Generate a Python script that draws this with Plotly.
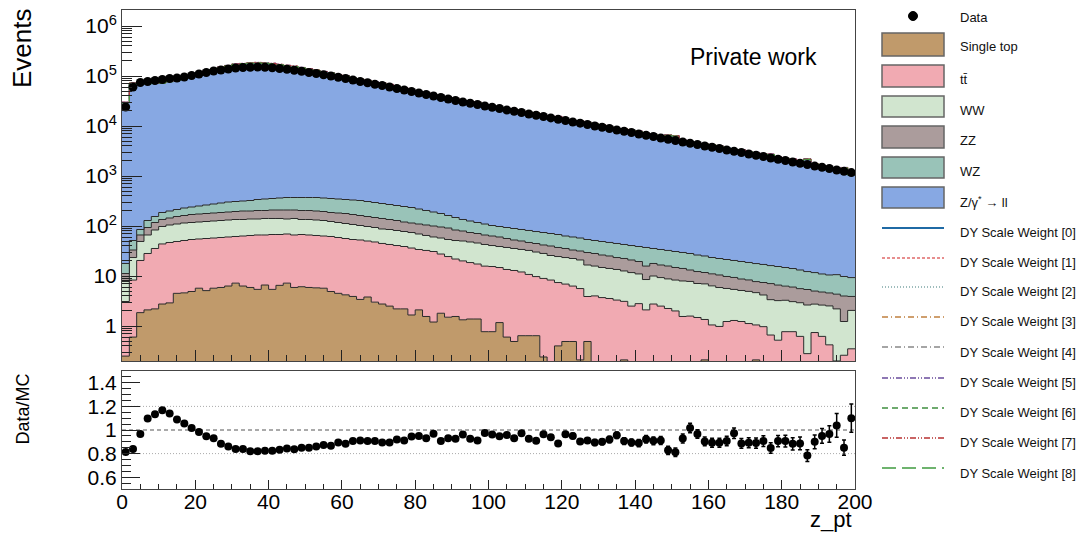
import numpy as np
import plotly.graph_objects as go

# ---------------- data ----------------
bin_edges = list(range(0, 202, 2))          # z_pt binning, 100 bins of 2 GeV
x_tick_labels = ["0", "20", "40", "60", "80", "100", "120", "140", "160", "180", "200"]

data_events = [
    24000, 60300, 74100, 77600, 81300, 85100, 89100, 91200, 95500, 102300,
    109600, 117500, 125900, 131800, 138000, 144500, 147900, 149600, 151400, 149600,
    146200, 141300, 136500, 130300, 124500, 117500, 112200, 105900, 100000, 94400,
    89100, 83200, 77600, 73300, 68400, 64600, 60300, 56200, 52500, 49000,
    45700, 42700, 39800, 37200, 34700, 32400, 30200, 28500, 26900, 25100,
    23700, 22400, 20900, 19700, 18600, 17400, 16400, 15500, 14500, 13600,
    12900, 12000, 11400, 10700, 10000, 9440, 8910, 8320, 7850, 7410,
    6920, 6530, 6170, 5750, 5430, 5130, 4790, 4520, 4270, 3980,
    3760, 3550, 3310, 3130, 2950, 2750, 2600, 2450, 2290, 2160,
    2040, 1910, 1800, 1700, 1580, 1500, 1410, 1320, 1240, 1170]

ratio_values = [
    0.814, 0.840, 0.967, 1.097, 1.133, 1.167, 1.139, 1.089, 1.056, 1.017,
    0.983, 0.947, 0.930, 0.883, 0.861, 0.839, 0.839, 0.820, 0.820, 0.825,
    0.825, 0.833, 0.844, 0.836, 0.850, 0.850, 0.861, 0.872, 0.867, 0.894,
    0.883, 0.906, 0.911, 0.906, 0.906, 0.894, 0.894, 0.919, 0.911, 0.944,
    0.950, 0.930, 0.969, 0.906, 0.930, 0.925, 0.961, 0.925, 0.911, 0.975,
    0.961, 0.947, 0.958, 0.930, 0.972, 0.925, 0.908, 0.964, 0.939, 0.886,
    0.964, 0.950, 0.903, 0.911, 0.894, 0.900, 0.919, 0.956, 0.906, 0.894,
    0.889, 0.922, 0.908, 0.911, 0.828, 0.811, 0.928, 1.017, 0.967, 0.903,
    0.892, 0.892, 0.906, 0.972, 0.886, 0.892, 0.889, 0.906, 0.847, 0.906,
    0.906, 0.883, 0.886, 0.783, 0.900, 0.950, 0.967, 1.039, 0.850, 1.100]

ratio_errors = [
    0.004, 0.004, 0.004, 0.004, 0.004, 0.004, 0.004, 0.004, 0.004, 0.004,
    0.004, 0.004, 0.004, 0.004, 0.004, 0.004, 0.004, 0.004, 0.004, 0.004,
    0.005, 0.005, 0.005, 0.005, 0.005, 0.005, 0.005, 0.005, 0.005, 0.005,
    0.006, 0.006, 0.006, 0.006, 0.006, 0.006, 0.006, 0.006, 0.006, 0.006,
    0.008, 0.008, 0.008, 0.008, 0.008, 0.008, 0.008, 0.008, 0.008, 0.008,
    0.010, 0.011, 0.012, 0.013, 0.014, 0.015, 0.016, 0.018, 0.019, 0.020,
    0.021, 0.022, 0.023, 0.024, 0.025, 0.026, 0.027, 0.028, 0.029, 0.030,
    0.031, 0.032, 0.033, 0.034, 0.035, 0.036, 0.038, 0.040, 0.036, 0.037,
    0.038, 0.039, 0.040, 0.045, 0.041, 0.042, 0.044, 0.046, 0.045, 0.048,
    0.050, 0.052, 0.054, 0.050, 0.058, 0.062, 0.070, 0.100, 0.065, 0.120]

single_top = [
    0.25, 0.6, 1.85, 2.1, 2.2, 2.75, 2.9, 4.5, 4.6, 4.9,
    5.7, 5.1, 5.7, 5.9, 6.3, 7.2, 6.3, 5.9, 5.4, 6.6,
    5.4, 6.5, 7.2, 5.9, 6.1, 5.9, 5.8, 5.7, 4.9, 4.5,
    4.2, 3.9, 3.4, 3.8, 3.0, 2.75, 2.5, 2.2, 2.2, 1.66,
    2.1, 1.55, 1.2, 1.8, 1.5, 1.55, 1.33, 1.38, 1.38, 0.77,
    0.77, 1.17, 0.6, 0.49, 0.64, 0.64, 0.64, 0.24, 0, 0.4,
    0.49, 0.49, 0.21, 0.49, 0, 0, 0, 0, 0.21, 0,
    0, 0, 0, 0, 0, 0, 0, 0, 0, 0.21,
    0, 0, 0, 0, 0, 0, 0.21, 0, 0, 0,
    0, 0, 0, 0, 0, 0, 0, 0, 0, 0]

ttbar = [
    2.84, 7.7, 18.6, 26.1, 33.3, 41.0, 43.9, 44.5, 46.7, 48.8,
    49.3, 51.1, 51.8, 53.0, 54.0, 54.5, 56.8, 58.7, 60.7, 59.5,
    62.2, 61.1, 62.0, 60.2, 61.5, 60.2, 58.8, 57.4, 56.8, 54.4,
    52.0, 49.8, 49.1, 46.3, 44.9, 42.0, 40.2, 38.5, 36.7, 34.6,
    31.8, 30.9, 29.7, 25.7, 23.0, 20.3, 18.7, 17.2, 16.0, 15.0,
    14.7, 13.6, 12.9, 12.4, 11.4, 10.1, 9.1, 8.7, 8.3, 7.0,
    6.4, 5.8, 5.4, 3.4, 4.0, 3.7, 3.55, 3.3, 2.9, 2.5,
    2.8, 2.1, 2.75, 2.5, 2.24, 2.0, 1.55, 1.58, 1.48, 1.14,
    1.05, 0.98, 1.23, 1.29, 1.23, 1.12, 0.84, 0.97, 0.66, 0.52,
    0.77, 0.77, 0.62, 0.28, 0.74, 0.62, 0.42, 0.2, 0.26, 0.35]

ww = [
    4.67, 15.1, 28.6, 37.9, 47.7, 54.0, 57.9, 60.6, 63.5, 63.8,
    65.2, 66.8, 68.4, 69.9, 71.5, 73.2, 71.8, 73.4, 71.9, 75.2,
    73.7, 73.7, 68.8, 75.2, 67.3, 68.8, 67.2, 65.7, 61.3, 58.6,
    56.0, 53.5, 49.8, 47.6, 45.4, 42.4, 42.4, 40.6, 38.7, 37.8,
    35.3, 32.2, 29.4, 30.0, 29.2, 29.4, 30.1, 29.3, 28.3, 26.9,
    25.2, 24.1, 23.7, 22.6, 21.9, 21.7, 20.4, 19.3, 17.4, 17.1,
    16.5, 16.1, 15.3, 12.7, 11.8, 11.1, 10.6, 10.2, 9.5, 9.2,
    8.2, 6.4, 7.25, 6.8, 6.5, 6.3, 6.4, 6.2, 5.6, 5.6,
    5.3, 4.9, 4.4, 4.1, 3.9, 3.8, 3.6, 3.2, 2.7, 2.7,
    2.5, 2.3, 2.3, 2.35, 2.0, 2.0, 2.1, 2.0, 0.97, 1.7]

zz = [
    3.44, 9.7, 17.1, 27.2, 34.3, 37.2, 39.8, 45.3, 47.4, 52.3,
    53.6, 54.8, 56.1, 57.4, 58.7, 60.1, 64.6, 61.5, 66.2, 62.9,
    67.6, 67.6, 70.9, 67.6, 69.3, 69.3, 67.7, 66.2, 63.2, 64.5,
    65.6, 62.6, 59.9, 57.2, 54.6, 54.2, 49.8, 47.5, 42.6, 40.7,
    40.4, 40.1, 39.7, 38.0, 37.5, 31.9, 29.3, 26.2, 25.1, 23.4,
    22.4, 21.4, 19.0, 17.0, 16.2, 14.4, 14.5, 13.5, 14.1, 12.7,
    12.1, 10.7, 10.7, 12.9, 12.4, 11.5, 11.0, 9.9, 9.8, 9.2,
    8.5, 7.3, 7.8, 7.3, 7.1, 6.5, 6.2, 5.4, 5.2, 4.8,
    4.7, 4.6, 4.15, 3.96, 3.58, 3.42, 3.08, 3.24, 3.69, 3.37,
    3.0, 2.94, 2.67, 2.74, 2.26, 2.16, 2.06, 2.13, 2.75, 1.85]

wz = [
    6.6, 18.2, 19.0, 35.5, 37.4, 51.3, 55.0, 58.9, 66.9, 70.1,
    77.4, 85.2, 93.4, 102.2, 111.5, 114.0, 116.7, 124.1, 134.6, 142.5,
    145.9, 154.2, 162.6, 162.6, 167.3, 167.3, 172.0, 168.1, 168.6, 164.7,
    161.0, 161.3, 161.4, 154.1, 147.2, 140.5, 134.3, 128.2, 125.3, 119.6,
    109.2, 99.5, 90.5, 82.3, 71.0, 64.7, 55.5, 51.8, 46.7, 43.5,
    39.2, 37.4, 37.1, 36.6, 35.0, 34.5, 32.9, 32.4, 31.0, 30.4,
    27.6, 27.2, 25.9, 24.2, 23.1, 22.7, 21.7, 21.3, 20.3, 19.8,
    19.4, 21.4, 17.7, 17.3, 16.6, 16.1, 15.4, 15.0, 14.0, 13.4,
    12.4, 11.9, 11.6, 11.1, 10.8, 10.3, 10.0, 9.6, 9.1, 8.9,
    8.5, 8.1, 7.6, 6.9, 6.7, 6.2, 5.9, 6.3, 5.8, 5.4]

# DY normalisation-scale variations drawn on top of the stack
dy_scale_factors = [1.000, 1.015, 0.985, 1.010, 0.990, 1.020, 0.980, 1.005, 0.995]

# ---------------- derived quantities ----------------
edges = np.array(bin_edges, dtype=float)
centers = 0.5 * (edges[:-1] + edges[1:])
data_arr = np.array(data_events, dtype=float)
ratio_arr = np.array(ratio_values, dtype=float)
mc_total = data_arr / ratio_arr
others = (np.array(single_top) + np.array(ttbar) + np.array(ww)
          + np.array(zz) + np.array(wz))
dy = mc_total - others

FONT = "Liberation Sans, Arial, Helvetica, sans-serif"
FLOOR = 1e-3

def steps(v):
    v = np.asarray(v, dtype=float)
    return np.append(v, v[-1])

stack = [
    ("Single top", single_top, "#c09a6b"),
    ("tt\u0304", ttbar, "#f1aab2"),
    ("WW", ww, "#d1e5cf"),
    ("ZZ", zz, "#ab9c9c"),
    ("WZ", wz, "#99c3b8"),
    ("Z/\u03b3* \u2192 ll", dy, "#87a8e3"),
]

fig = go.Figure()
fig.add_trace(go.Scatter(x=edges, y=np.full(len(edges), FLOOR), mode="lines",
                         line=dict(width=0, shape="hv"), showlegend=False,
                         hoverinfo="skip", xaxis="x", yaxis="y"))
cum = np.zeros(len(centers))
for name, vals, col in stack:
    cum = cum + np.asarray(vals, dtype=float)
    fig.add_trace(go.Scatter(x=edges, y=steps(np.maximum(cum, FLOOR)), mode="lines",
                             line=dict(color="#2a2a2a", width=1, shape="hv"),
                             fill="tonexty", fillcolor=col, name=name,
                             showlegend=False, xaxis="x", yaxis="y"))

dy_line_styles = [
    ("#1f6aa5", "solid", 2), ("#e06a6a", "3px,2px", 1.3), ("#7fa6a6", "1px,2px", 1.3),
    ("#c0803f", "6px,3px,1px,3px", 1.3), ("#888888", "6px,3px,1px,3px", 1.3),
    ("#6a4c9c", "6px,2px,1px,2px,1px,2px", 1.3), ("#3f8f3f", "6px,4px", 1.3),
    ("#b83232", "6px,2px,1px,2px,1px,2px", 1.3), ("#3f9a3f", "14px,6px", 1.3)]
for k, fac in enumerate(dy_scale_factors):
    col, dash, w = dy_line_styles[k]
    fig.add_trace(go.Scatter(x=edges, y=steps(others + dy * fac), mode="lines",
                             line=dict(color=col, width=1, dash=dash, shape="hv"),
                             showlegend=False, hoverinfo="skip", xaxis="x", yaxis="y"))

fig.add_trace(go.Scatter(x=centers, y=data_arr, mode="markers",
                         marker=dict(color="black", size=9), showlegend=False,
                         xaxis="x", yaxis="y"))

# ratio panel
fig.add_trace(go.Scatter(x=centers, y=ratio_arr, mode="markers",
                         marker=dict(color="black", size=8),
                         error_y=dict(type="data", array=ratio_errors, color="black",
                                      thickness=1.5, width=2),
                         showlegend=False, xaxis="x2", yaxis="y2"))

W, H = 1085, 535
def px_x(p): return p / W
def px_y(p): return 1 - p / H

xdom = [px_x(122), px_x(855)]
axis_line = dict(showline=True, linecolor="#444", linewidth=1, mirror=True,
                 showgrid=False, zeroline=False, automargin=False)

major_log = [1, 10, 100, 1e3, 1e4, 1e5, 1e6]
major_log_text = ["1", "10", "10<sup>2</sup>", "10<sup>3</sup>", "10<sup>4</sup>",
                  "10<sup>5</sup>", "10<sup>6</sup>"]
minor_log = [m * 10.0 ** e for e in range(-1, 7) for m in range(2, 10)]

fig.update_layout(
    width=W, height=H, autosize=False,
    margin=dict(l=0, r=0, t=0, b=0, pad=0),
    paper_bgcolor="white", plot_bgcolor="white",
    font=dict(family=FONT, color="black"),
    xaxis=dict(domain=xdom, anchor="y", range=[0, 200], showticklabels=False,
               tickmode="array", tickvals=list(range(0, 201, 20)), ticks="inside",
               ticklen=11, tickcolor="#222",
               minor=dict(ticks="inside", tickmode="linear", dtick=5, ticklen=6,
                          tickcolor="#222"),
               **axis_line),
    yaxis=dict(domain=[px_y(361), px_y(10)], anchor="x", type="log",
               range=[-0.70, 6.32], tickmode="array", tickvals=major_log,
               ticktext=major_log_text, ticks="inside", ticklen=20, tickcolor="#222",
               tickfont=dict(size=21, family=FONT),
               minor=dict(ticks="inside", tickmode="array", tickvals=minor_log,
                          ticklen=10, tickcolor="#222"),
               **axis_line),
    xaxis2=dict(domain=xdom, anchor="y2", range=[0, 200], tickmode="array",
                tickvals=list(range(0, 201, 20)), ticktext=x_tick_labels,
                ticks="inside", ticklen=9, tickcolor="#222",
                tickfont=dict(size=21, family=FONT), ticklabelstandoff=-6,
                minor=dict(ticks="inside", tickmode="linear", dtick=5, ticklen=5,
                           tickcolor="#222"),
                **axis_line),
    yaxis2=dict(domain=[px_y(489), px_y(371)], anchor="x2", range=[0.5, 1.5],
                tickmode="array", tickvals=[0.6, 0.8, 1.0, 1.2, 1.4],
                ticktext=["0.6", "0.8", "1", "1.2", "1.4"], ticks="inside",
                ticklen=18, tickcolor="#222", tickfont=dict(size=21, family=FONT),
                minor=dict(ticks="inside", tickmode="linear", dtick=0.05, ticklen=9,
                           tickcolor="#222"),
                **axis_line),
)

shapes = [
    dict(type="line", xref="x2", yref="y2", x0=0, x1=200, y0=1.0, y1=1.0,
         line=dict(color="#555", width=1, dash="4px,3px"), layer="below"),
    dict(type="line", xref="x2", yref="y2", x0=0, x1=200, y0=0.8, y1=0.8,
         line=dict(color="#aaa", width=1, dash="1px,2px"), layer="below"),
    dict(type="line", xref="x2", yref="y2", x0=0, x1=200, y0=1.2, y1=1.2,
         line=dict(color="#aaa", width=1, dash="1px,2px"), layer="below"),
]

annotations = [
    dict(text="Events", x=px_x(22), y=px_y(6), xref="paper", yref="paper",
         xanchor="center", yanchor="top", textangle=-90, showarrow=False,
         font=dict(size=26, family=FONT)),
    dict(text="Data/MC", x=px_x(22), y=px_y(372), xref="paper", yref="paper",
         xanchor="center", yanchor="top", textangle=-90, showarrow=False,
         font=dict(size=18, family=FONT)),
    dict(text="z_pt", x=px_x(854), y=px_y(519), xref="paper", yref="paper",
         xanchor="right", yanchor="middle", showarrow=False,
         font=dict(size=22, family=FONT)),
    dict(text="Private work", x=px_x(753), y=px_y(57), xref="paper", yref="paper",
         xanchor="center", yanchor="middle", showarrow=False,
         font=dict(size=23, family=FONT)),
]

# ---------- hand-built legend ----------
LX0, LX1, TX = 882, 944, 958
legend_font = dict(size=13, family=FONT, color="#111")
shapes.append(dict(type="circle", xref="paper", yref="paper",
                   x0=px_x(908.5), x1=px_x(917.5), y0=px_y(20.5), y1=px_y(11.5),
                   fillcolor="black", line=dict(color="black", width=1)))
annotations.append(dict(text="Data", x=px_x(TX), y=px_y(17), xref="paper", yref="paper",
                        xanchor="left", yanchor="middle", showarrow=False, font=legend_font))
box_rows = [(47, 33, 56), (79, 65, 87), (110, 96, 117), (140, 126, 148),
            (171, 157, 178), (202, 187, 208)]
for (ty, b0, b1), (name, _, col) in zip(box_rows, stack):
    shapes.append(dict(type="rect", xref="paper", yref="paper",
                       x0=px_x(LX0), x1=px_x(LX1), y0=px_y(b1), y1=px_y(b0),
                       fillcolor=col, line=dict(color="#666", width=1.5)))
    label = "Z/\u03b3<sup>*</sup> \u2192 ll" if name.startswith("Z/") else name
    annotations.append(dict(text=label, x=px_x(TX), y=px_y(ty), xref="paper",
                            yref="paper", xanchor="left", yanchor="middle",
                            showarrow=False, font=legend_font))
line_rows = [(232, 228), (262, 258), (291, 287), (321, 317), (352, 347),
             (382, 378), (412, 408), (442, 438), (473, 468)]
for k, (ty, ly) in enumerate(line_rows):
    col, dash, w = dy_line_styles[k]
    shapes.append(dict(type="line", xref="paper", yref="paper",
                       x0=px_x(LX0), x1=px_x(LX1), y0=px_y(ly), y1=px_y(ly),
                       line=dict(color=col, width=w, dash=dash)))
    annotations.append(dict(text=f"DY Scale Weight [{k}]", x=px_x(TX), y=px_y(ty),
                            xref="paper", yref="paper", xanchor="left",
                            yanchor="middle", showarrow=False, font=legend_font))

fig.update_layout(shapes=shapes, annotations=annotations)
fig.write_html("out.html")
